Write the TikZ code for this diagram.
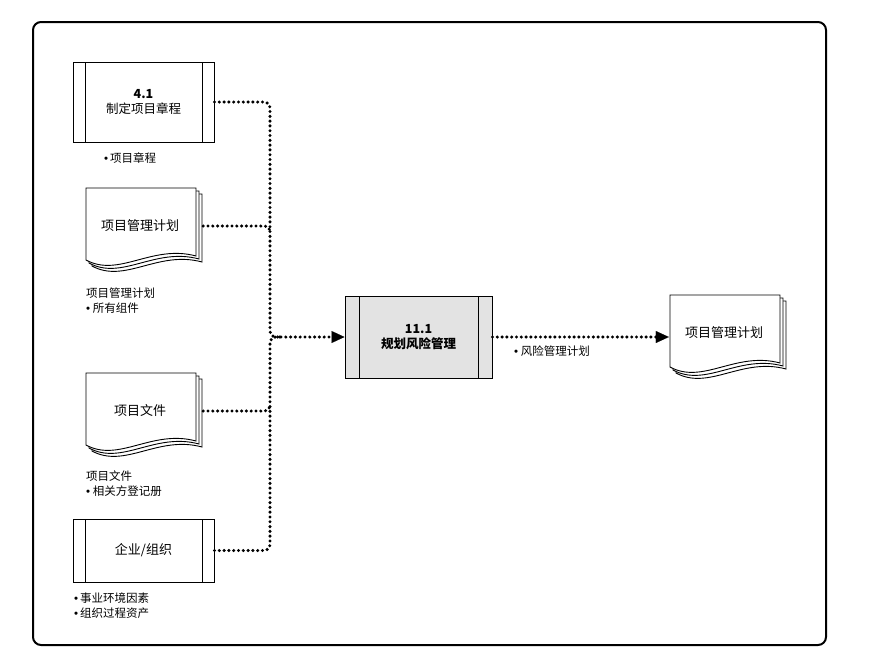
\documentclass[tikz,border=0pt]{standalone}
\usepackage{fontspec}
\setmainfont{Noto Sans CJK SC}
\newfontfamily\bulfont{Liberation Sans}
\newcommand{\bul}{{\bulfont\char"2022}}
\usetikzlibrary{arrows.meta, positioning}

\tikzset{
  proc/.style={draw, line width=1pt, align=center, font=\fontsize{12.5}{15}\selectfont,
    path picture={\draw[line width=1pt]
      ([xshift=#1]path picture bounding box.north west) -- ([xshift=#1]path picture bounding box.south west)
      ([xshift=-#1]path picture bounding box.north east) -- ([xshift=-#1]path picture bounding box.south east);}},
  proc/.default=12pt,
  page/.style={draw, fill=white, line width=0.9pt},
  link/.style={line width=3.4pt, line cap=round, dash pattern=on 0pt off 4.8pt, rounded corners=6pt},
  tip/.style={-{Triangle[length=13pt,width=12pt,line width=0.1pt]}},
  note/.style={anchor=north west, align=left, inner sep=0pt, font=\fontsize{11.5}{15}\selectfont},
}

% stack of three pages with a wavy bottom, #1 name, (#2,#3) top left of the front page
\newcommand{\docstack}[4]{%
  \foreach \d in {6,3,0}
    \path[page] (#2+\d,#3+\d) -- (#2+\d+110,#3+\d) -- (#2+\d+110,#3+\d+68)
      .. controls (#2+\d+66,#3+\d+56) and (#2+\d+33,#3+\d+90) .. (#2+\d,#3+\d+72) -- cycle;
  \node[minimum width=110pt, inner sep=0pt, font=\fontsize{13}{15}\selectfont] (#1) at (#2+54,#3+38) {#4};
}

\begin{document}
\begin{tikzpicture}[x=1pt, y=-1pt]
  \useasboundingbox (0,0) rectangle (872,662);
  \draw[line width=2pt, rounded corners=8pt] (33,22) rectangle (826,645);

  % inputs
  \node[proc, minimum width=141pt, minimum height=80pt] (p41) at (143.5,102) {\textbf{4.1}\\制定项目章程};
  \docstack{pmp}{86}{188}{项目管理计划}
  \docstack{docs}{86}{373}{项目文件}
  \node[proc, minimum width=141pt, minimum height=63pt, font=\fontsize{13}{15}\selectfont] (org) at (143.5,550.5) {企业/组织};

  % process and output
  \node[proc=14pt, fill=gray!22, minimum width=147pt, minimum height=82pt, font=\bfseries\fontsize{12.5}{15}\selectfont] (plan) at (418.5,337) {11.1\\规划风险管理};
  \docstack{out}{670}{295}{项目管理计划}

  % labels
  \node[note] (l41) at (104,152) {\bul\,项目章程};
  \node[note] (lpmp) at (86,288) {项目管理计划\\\bul\ 所有组件};
  \node[note] (ldocs) at (86,471) {项目文件\\\bul\ 相关方登记册};
  \node[note] (lorg) at (74,593) {\bul\,事业环境因素\\\bul\,组织过程资产};
  \node[note] (lplan) at (514,346) {\bul\ 风险管理计划};

  % connectors
  \coordinate (jn) at (270,337);
  \coordinate (jr) at (281,337);
  \coordinate (t1) at (270,232);
  \coordinate (t2) at (270,404);
  \draw[link] (p41.east) -| (jn) -- (jr);
  \draw[link] (org.east) -| (jn) -- (jr);
  \draw[link] ([xshift=8pt]pmp.east) -| (t1);
  \draw[link] ([xshift=8pt]docs.east) -| (t2);
  \draw[link, tip] (jr) -- (plan.west);
  \draw[link, tip] (plan.east) -- (plan.east -| out.west);
\end{tikzpicture}
\end{document}
